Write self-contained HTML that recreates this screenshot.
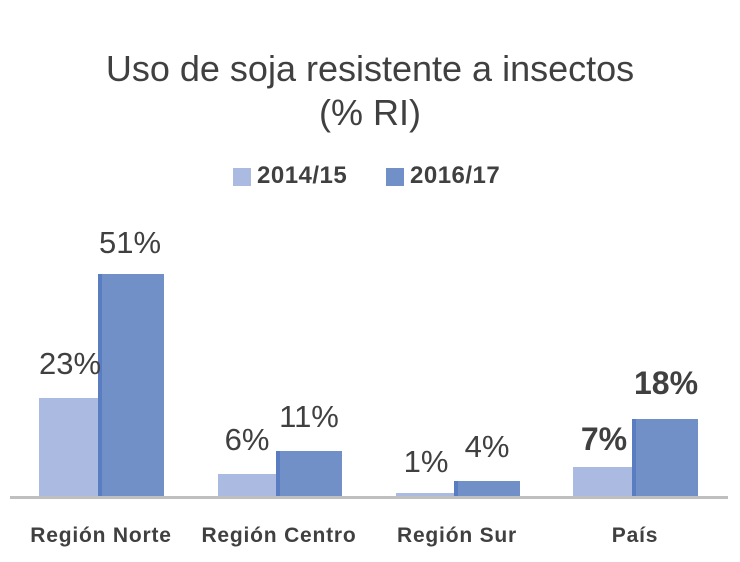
<!DOCTYPE html>
<html><head><style>
body{margin:0;background:#fff;width:740px;height:562px;overflow:hidden;font-family:"Liberation Sans","DejaVu Sans",sans-serif;}
.a{position:absolute}
.l{background:#aabae0}
.d{background:#7190c8;border-left:4px solid #5a7cc0;box-sizing:border-box}
.v{position:absolute;font-size:31px;color:#404040;text-align:center;width:100px}
.c{position:absolute;font-size:21px;font-weight:bold;color:#404040;text-align:center;width:200px;top:524px;letter-spacing:0.8px}
</style></head><body>
<div class="a" style="left:0;width:740px;top:47px;text-align:center;font-size:36px;color:#404040;line-height:44px">Uso de soja resistente a insectos<br>(% RI)</div>
<div class="a l" style="left:233px;top:168px;width:18px;height:18px"></div>
<div class="a" style="left:257px;top:162px;font-size:24px;font-weight:bold;color:#404040;letter-spacing:0.5px">2014/15</div>
<div class="a" style="left:386px;top:168px;width:18px;height:18px;background:#7190c8"></div>
<div class="a" style="left:410px;top:162px;font-size:24px;font-weight:bold;color:#404040;letter-spacing:0.5px">2016/17</div>

<div class="a l" style="left:39px;top:398px;width:59px;height:99px"></div>
<div class="a d" style="left:98px;top:274px;width:66px;height:223px"></div>
<div class="a l" style="left:218px;top:474px;width:58px;height:23px"></div>
<div class="a d" style="left:276px;top:451px;width:66px;height:46px"></div>
<div class="a l" style="left:396px;top:493px;width:58px;height:4px"></div>
<div class="a d" style="left:454px;top:481px;width:66px;height:16px"></div>
<div class="a l" style="left:573px;top:467px;width:59px;height:30px"></div>
<div class="a d" style="left:632px;top:419px;width:66px;height:78px"></div>
<div class="a" style="left:10px;top:496px;width:718px;height:3px;background:#bfbfbf"></div>

<div class="v" style="left:20px;top:346px">23%</div>
<div class="v" style="left:80px;top:225px">51%</div>
<div class="v" style="left:197px;top:422px">6%</div>
<div class="v" style="left:259px;top:399px">11%</div>
<div class="v" style="left:376px;top:444px">1%</div>
<div class="v" style="left:437px;top:429px">4%</div>
<div class="v" style="left:554px;top:421px;font-weight:bold;font-size:32px">7%</div>
<div class="v" style="left:616px;top:365px;font-weight:bold;font-size:32px">18%</div>

<div class="c" style="left:1px">Región Norte</div>
<div class="c" style="left:179px">Región Centro</div>
<div class="c" style="left:357px">Región Sur</div>
<div class="c" style="left:535px">País</div>
</body></html>
